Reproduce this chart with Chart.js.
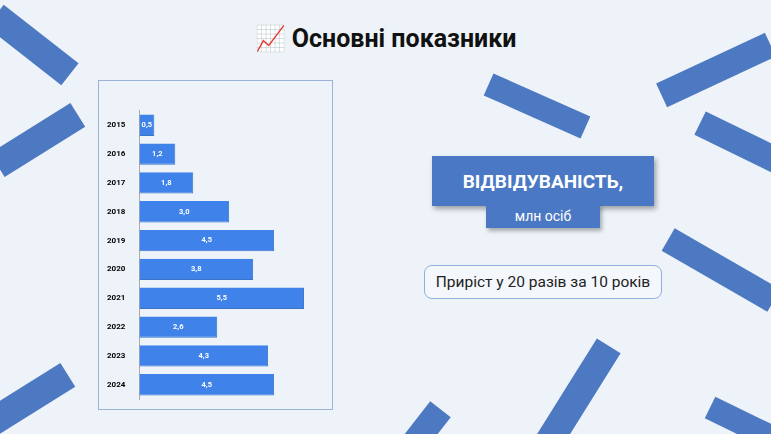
<!DOCTYPE html><html><head><meta charset="utf-8">
<script src="https://cdn.jsdelivr.net/npm/chart.js@4"></script>
<style>
body{margin:0;width:771px;height:434px;overflow:hidden;background:#edf3f8;font-family:Roboto,sans-serif;position:relative}
.d{position:absolute;background:#4d78c2;}
#title{position:absolute;top:24px;left:0;width:771px;text-align:center;font-size:25px;font-weight:bold;color:#111}
#panel{position:absolute;left:98px;top:80px;width:233px;height:328px;border:1px solid #9ab3d8;background:#edf3f8}
#wrap{position:absolute;left:101px;top:100px;width:230px;height:310px}
#b1{position:absolute;left:432px;top:156px;width:222px;height:50px;background:#4a78c4;color:#fff;font-size:19px;font-weight:bold;display:flex;align-items:center;justify-content:center;box-shadow:2px 3px 5px rgba(0,0,0,.35)}
#b2{position:absolute;left:486px;top:204px;width:114px;height:24px;background:#4a78c4;color:#fff;font-size:14px;display:flex;align-items:center;justify-content:center;box-shadow:2px 3px 4px rgba(0,0,0,.3)}
#b3{position:absolute;left:424px;top:265px;width:236px;height:32px;border:1.5px solid #8fb0dc;border-radius:8px;background:#f4f8fc;font-size:15.5px;color:#222;display:flex;align-items:center;justify-content:center}
</style></head><body>
<div class="d" style="left:-15px;top:31px;width:95px;height:28px;transform:rotate(38deg)"></div>
<div class="d" style="left:-10px;top:126px;width:95px;height:28px;transform:rotate(-32deg)"></div>
<div class="d" style="left:-20px;top:386px;width:95px;height:28px;transform:rotate(-32deg)"></div>
<div class="d" style="left:484px;top:94px;width:106px;height:24px;transform:rotate(24deg)"></div>
<div class="d" style="left:656px;top:57px;width:120px;height:26px;transform:rotate(-25deg)"></div>
<div class="d" style="left:695px;top:132px;width:100px;height:26px;transform:rotate(26deg)"></div>
<div class="d" style="left:660px;top:257px;width:122px;height:26px;transform:rotate(30deg)"></div>
<div class="d" style="left:520px;top:381px;width:116px;height:28px;transform:rotate(-58deg)"></div>
<div class="d" style="left:392px;top:420px;width:60px;height:26px;transform:rotate(-52deg)"></div>
<div class="d" style="left:706px;top:413px;width:80px;height:24px;transform:rotate(26deg)"></div>
<div id="title">📈 Основні показники</div>
<div id="panel"></div>
<div id="wrap"><canvas id="c"></canvas></div>
<div id="b1">ВІДВІДУВАНІСТЬ,</div>
<div id="b2">млн осіб</div>
<div id="b3">Приріст у 20 разів за 10 років</div>
<script>
const years=['2015','2016','2017','2018','2019','2020','2021','2022','2023','2024'];
const visitors=[0.5,1.2,1.8,3.0,4.5,3.8,5.5,2.6,4.3,4.5];
const labelsPlugin={id:'lbl',afterDatasetsDraw(ch){const ctx=ch.ctx;ctx.save();ctx.fillStyle='#fff';ctx.font='bold 7.5px Roboto';ctx.textAlign='center';ctx.textBaseline='middle';
ch.getDatasetMeta(0).data.forEach((b,i)=>{ctx.fillText(visitors[i].toFixed(1).replace('.',','),(b.x+b.base)/2,b.y);});ctx.restore();}};
new Chart(document.getElementById('c'),{type:'bar',data:{labels:years,datasets:[{data:visitors,backgroundColor:'#3f83ea',borderColor:'#3a74c8',borderWidth:{right:1,bottom:1},categoryPercentage:1,barPercentage:0.74}]},
options:{indexAxis:'y',responsive:true,maintainAspectRatio:false,animation:false,
plugins:{legend:{display:false},tooltip:{enabled:false}},
layout:{padding:{top:0,bottom:0,right:0}},
scales:{x:{min:0,max:6.4,display:false,grid:{display:false}},
y:{grid:{display:false},border:{display:true,color:'#aaa'},ticks:{color:'#000',font:{size:8,weight:'bold',family:'Roboto'},padding:6}}}},
plugins:[labelsPlugin]});
</script></body></html>
